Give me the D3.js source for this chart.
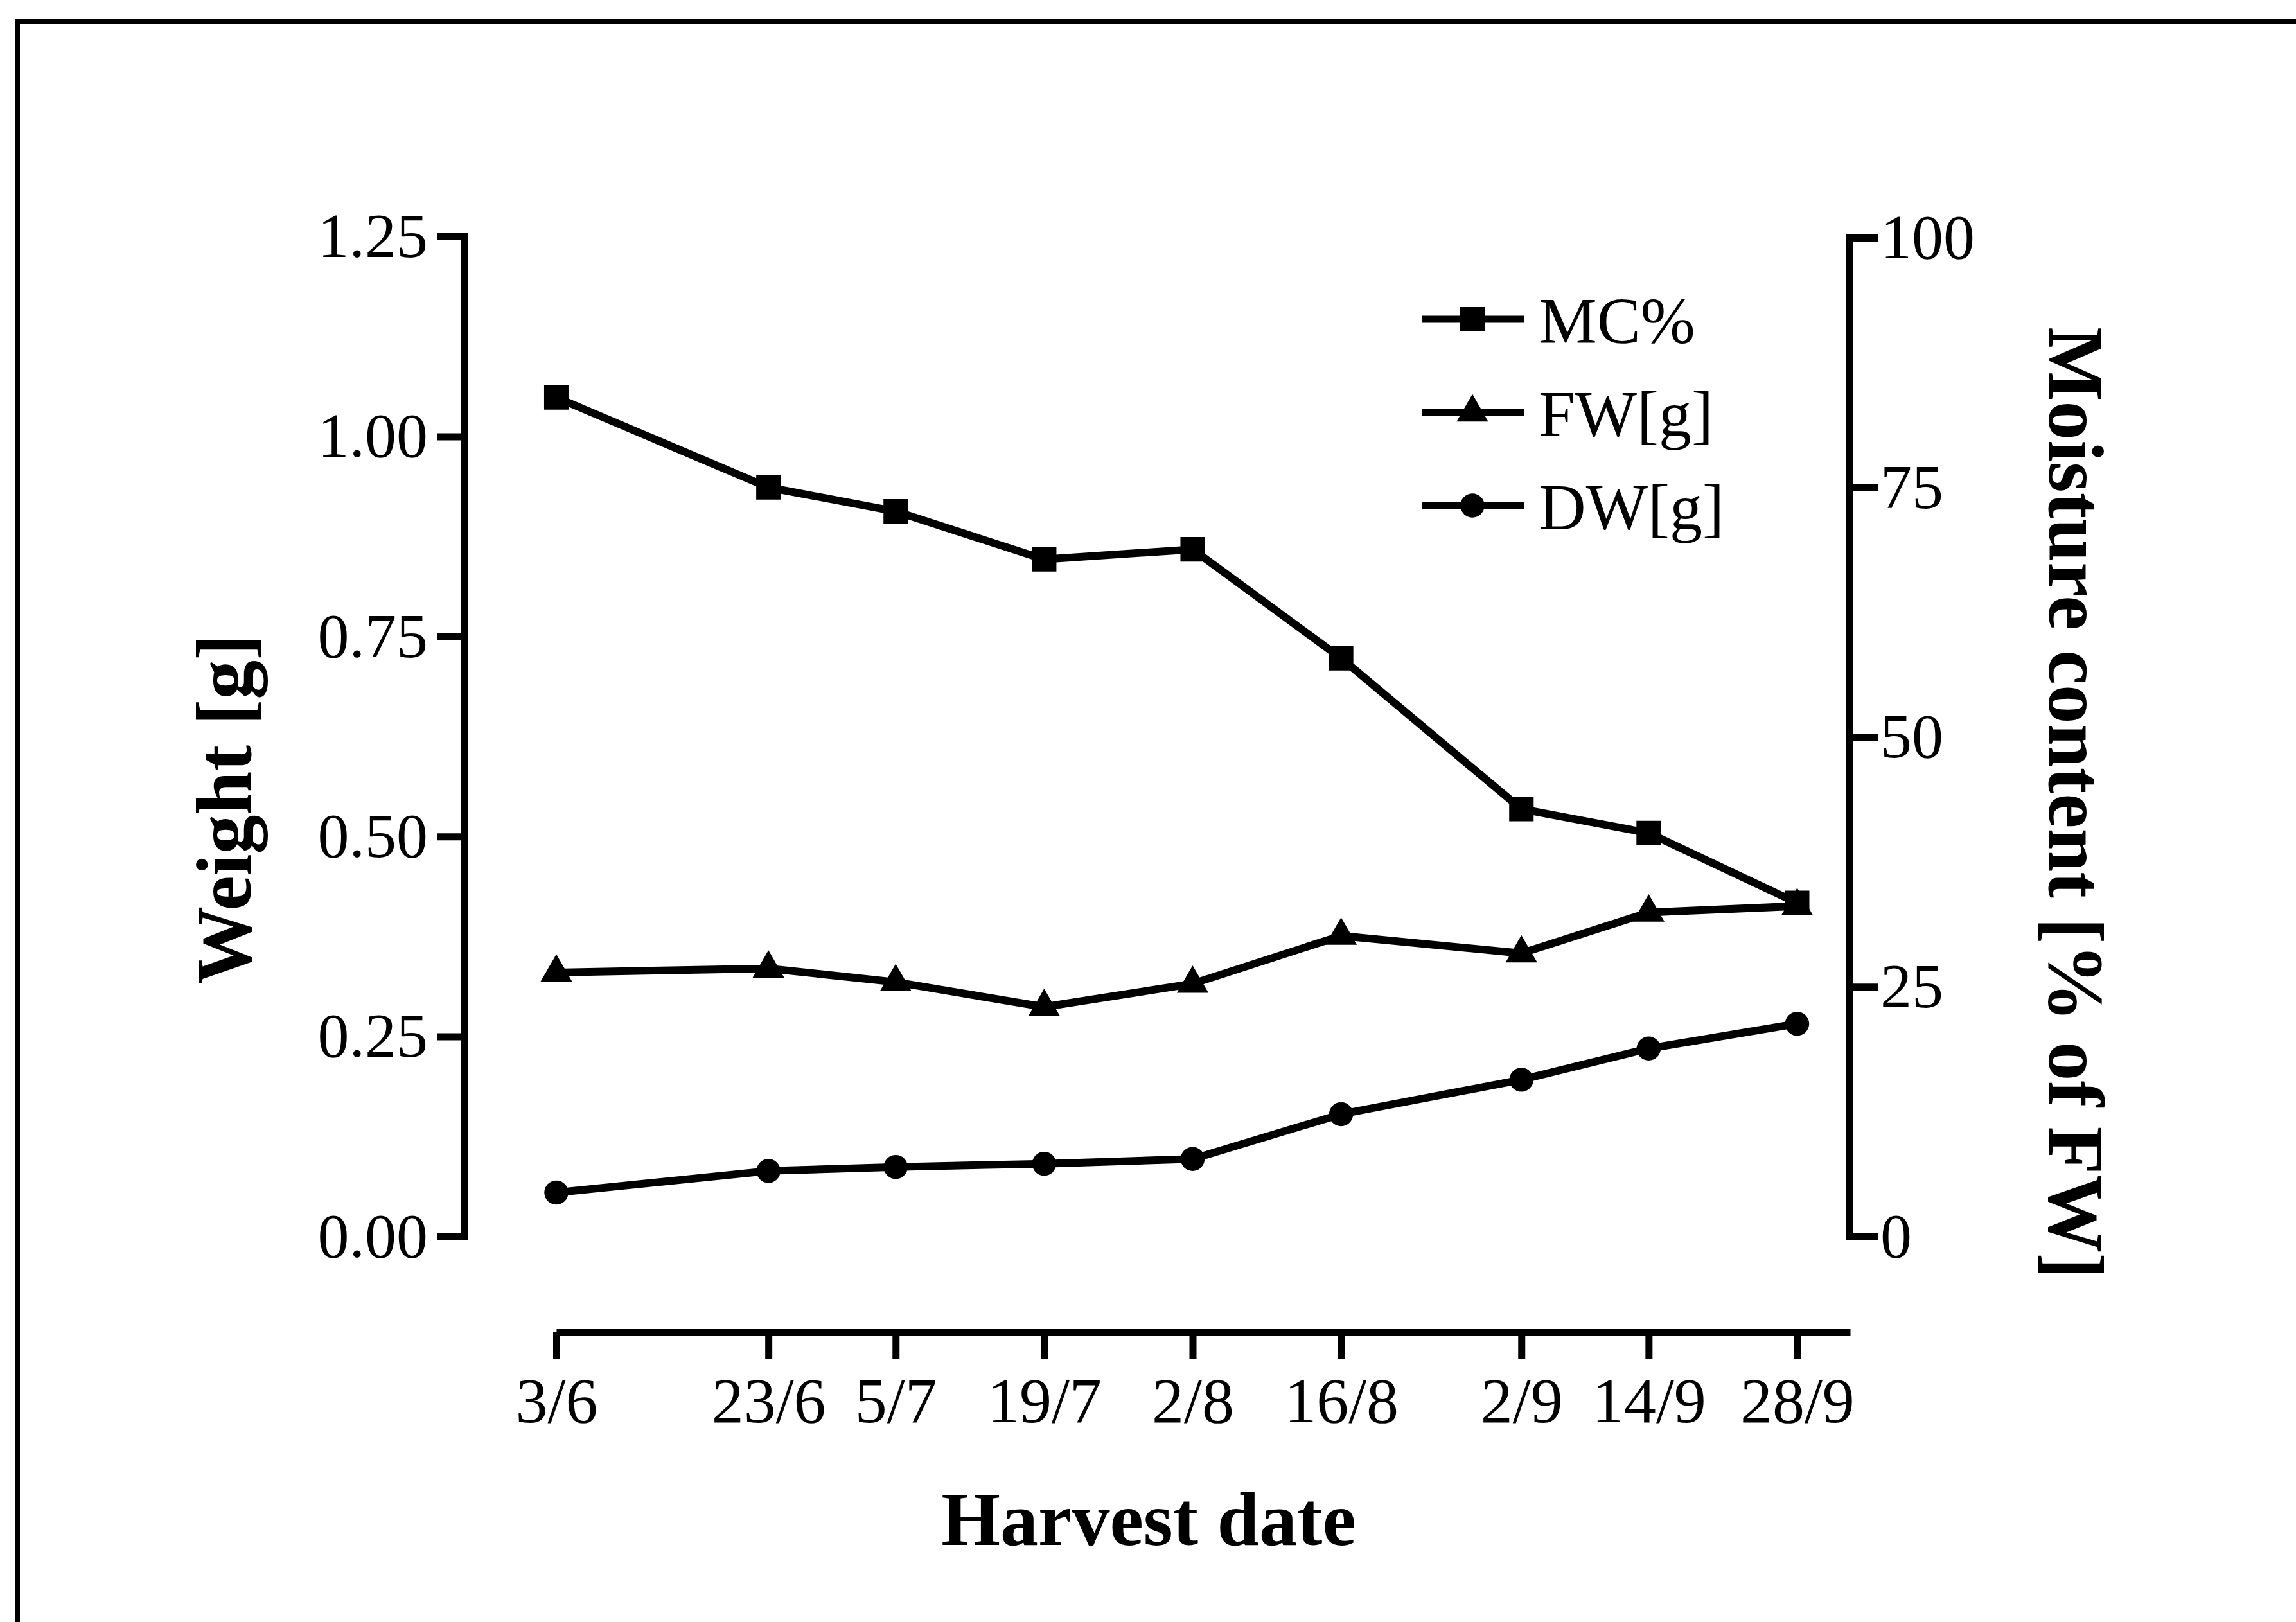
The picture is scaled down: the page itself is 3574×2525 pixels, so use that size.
<!DOCTYPE html>
<html lang="en">
  <head>
    <meta charset="UTF-8" />
    <title>Harvest date: moisture content, fresh and dry weight</title>
    <style>
      body {
        margin: 0;
        background: #fff;
      }
      text {
        font-family: "Liberation Serif", "Times New Roman", serif;
        fill: #000;
      }
      .axis path,
      .axis line {
        stroke: #000;
        stroke-width: 11px;
      }
      .series {
        fill: none;
        stroke: #000;
        stroke-width: 12px;
        stroke-linejoin: round;
      }
    </style>
  </head>
  <body>
    <div id="chart"></div>
    <script src="https://cdn.jsdelivr.net/npm/d3@7"></script>
    <script>
      /* global d3 */

      // harvest dates (day/month), year is arbitrary
      let harvestDates = [
        "2000-06-03",
        "2000-06-23",
        "2000-07-05",
        "2000-07-19",
        "2000-08-02",
        "2000-08-16",
        "2000-09-02",
        "2000-09-14",
        "2000-09-28",
      ];
      let mcValues = [84.0, 75.0, 72.6, 67.8, 68.8, 57.9, 42.8, 40.4, 33.4]; // % of FW, right axis
      let fwValues = [0.33, 0.335, 0.318, 0.287, 0.316, 0.376, 0.354, 0.405, 0.413]; // g
      let dwValues = [0.055, 0.082, 0.087, 0.091, 0.097, 0.153, 0.196, 0.235, 0.266]; // g

      let weightTicks = [0, 0.25, 0.5, 0.75, 1.0, 1.25];
      let moistureTicks = [0, 25, 50, 75, 100];
      let legendLabels = ["MC%", "FW[g]", "DW[g]"];

      let width = 3574,
        height = 2525;

      let parse = d3.utcParse("%Y-%m-%d");
      let dates = harvestDates.map(parse);

      let x = d3
        .scaleUtc()
        .domain([dates[0], d3.utcDay.offset(dates[0], 122)])
        .range([866, 2880]);

      let yLeft = d3.scaleLinear().domain([0, 1.25]).range([1925, 368]);
      let yRight = d3.scaleLinear().domain([0, 100]).range([1925, 370]);

      let svg = d3
        .select("#chart")
        .append("svg")
        .attr("width", width)
        .attr("height", height);

      svg
        .append("rect")
        .attr("width", width)
        .attr("height", height)
        .attr("fill", "#fff");

      // scanned frame: only the top and left edges show
      svg
        .append("path")
        .attr("d", "M27," + height + "V33H" + width)
        .attr("fill", "none")
        .attr("stroke", "#000")
        .attr("stroke-width", 8);

      // axes
      let gLeft = svg
        .append("g")
        .attr("class", "axis")
        .attr("transform", "translate(722,0)")
        .call(
          d3
            .axisLeft(yLeft)
            .tickValues(weightTicks)
            .tickFormat(d3.format(".2f"))
            .tickSize(42)
            .tickSizeOuter(42)
            .tickPadding(14)
        );

      let gRight = svg
        .append("g")
        .attr("class", "axis")
        .attr("transform", "translate(2879,0)")
        .call(
          d3
            .axisRight(yRight)
            .tickValues(moistureTicks)
            .tickSize(44)
            .tickSizeOuter(44)
            .tickPadding(4)
        );

      let gBottom = svg
        .append("g")
        .attr("class", "axis")
        .attr("transform", "translate(0,2074)")
        .call(
          d3
            .axisBottom(x)
            .tickValues(dates)
            .tickFormat(d3.utcFormat("%-d/%-m"))
            .tickSize(42)
            .tickSizeOuter(0)
            .tickPadding(27)
        );

      [gLeft, gRight, gBottom].forEach(function (g) {
        g.attr("font-family", null).attr("font-size", null);
        g.selectAll("text").style("font-size", "98px");
      });
      gBottom.selectAll("text").style("font-size", "100px");

      // axis titles
      svg
        .append("text")
        .attr("transform", "translate(390,1260) rotate(-90)")
        .attr("text-anchor", "middle")
        .style("font-size", "122px")
        .style("font-weight", "bold")
        .text("Weight [g]");

      svg
        .append("text")
        .attr("transform", "translate(3190,1250) rotate(90)")
        .attr("text-anchor", "middle")
        .style("font-size", "122px")
        .style("font-weight", "bold")
        .text("Moisture content [% of FW]");

      svg
        .append("text")
        .attr("x", 1788)
        .attr("y", 2405)
        .attr("text-anchor", "middle")
        .style("font-size", "118px")
        .style("font-weight", "bold")
        .text("Harvest date");

      // series
      let series = [
        { name: legendLabels[0], values: mcValues, y: yRight, symbol: d3.symbolSquare, size: 1450 },
        { name: legendLabels[1], values: fwValues, y: yLeft, symbol: d3.symbolTriangle, size: 1050 },
        { name: legendLabels[2], values: dwValues, y: yLeft, symbol: d3.symbolCircle, size: 1100 },
      ];

      series.forEach(function (s) {
        let pts = dates.map(function (d, i) {
          return [x(d), s.y(s.values[i])];
        });

        svg
          .append("path")
          .attr("class", "series")
          .attr("d", d3.line()(pts));

        svg
          .selectAll(null)
          .data(pts)
          .enter()
          .append("path")
          .attr("transform", function (p) {
            return "translate(" + p[0] + "," + p[1] + ")";
          })
          .attr("d", d3.symbol(s.symbol, s.size))
          .attr("fill", "#000");
      });

      // legend
      let legend = svg.append("g").attr("transform", "translate(2213,497)");

      let item = legend
        .selectAll("g")
        .data(series)
        .enter()
        .append("g")
        .attr("transform", function (d, i) {
          return "translate(0," + i * 145 + ")";
        });

      item
        .append("line")
        .attr("x1", 0)
        .attr("x2", 159)
        .attr("stroke", "#000")
        .attr("stroke-width", 11);

      item
        .append("path")
        .attr("transform", "translate(79,0)")
        .attr("d", function (d) {
          return d3.symbol(d.symbol, d.size)();
        })
        .attr("fill", "#000");

      item
        .append("text")
        .attr("x", 182)
        .attr("y", 37)
        .style("font-size", "102px")
        .text(function (d) {
          return d.name;
        });
    </script>
  </body>
</html>
